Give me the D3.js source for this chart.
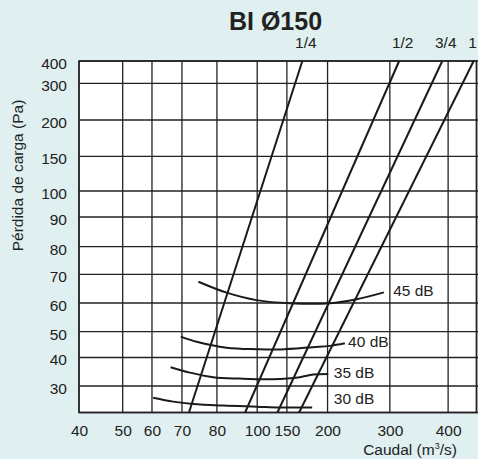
<!DOCTYPE html>
<html>
<head>
<meta charset="utf-8">
<script src="https://cdn.jsdelivr.net/npm/d3@7/dist/d3.min.js"></script>
<style>
  html, body { margin: 0; padding: 0; background: #e0eff0; }
  svg { display: block; }
  text { font-family: "Liberation Sans", Arial, Helvetica, sans-serif; fill: #222; }
</style>
</head>
<body>
<script>
// ---------------- data ----------------
const title = "BI Ø150";
const xTicks = [40, 50, 60, 70, 80, 100, 150, 200, 300, 400];   // Caudal (m3/s)
const xEnd = 500;
const yTicks = [30, 40, 50, 60, 70, 80, 90, 100, 150, 200, 300, 400]; // Pa
const yStart = 20;

// damper position lines (straight): flow at top (400 Pa) and bottom (20 Pa)
const damperLabels = ["1/4", "1/2", "3/4", "1"];
const damperTopQ = [169, 316, 390, 490];
const damperBottomQ = [72, 94, 134, 165];
const damperTopP = 400;
const damperBottomP = 20;

// sound level curves [flow, pressure]
const db45 = [[74.7, 67.4], [84.8, 63.6], [99.7, 61.0], [153.7, 59.9], [203.7, 59.9], [246.5, 61.3], [290.4, 63.7]];
const db40 = [[69.6, 48.1], [74.2, 46.1], [84.8, 43.8], [99.7, 43.2], [138.2, 43.1], [182.3, 44.0], [203.7, 44.5], [227.8, 45.5]];
const db35 = [[66.2, 36.6], [72.3, 34.7], [78.9, 33.1], [91.4, 32.6], [126.9, 32.4], [166, 33.1], [182.3, 34.0], [201, 34.2]];
const db30 = [[60.4, 25.6], [67.1, 24.1], [73.2, 23.2], [83.1, 22.6], [99.7, 22.2], [138.2, 21.9], [181.1, 21.9]];
const dbCurves = [db45, db40, db35, db30];
const dbLabels = ["45 dB", "40 dB", "35 dB", "30 dB"];
const dbLabelQ = [305.7, 233, 210, 210];
const dbLabelP = [64.3, 46.1, 34.7, 25.1];

// ---------------- layout ----------------
const W = 478, H = 459;
const margin = { top: 61, right: 1.5, bottom: 46.5, left: 79 };
const pw = W - margin.left - margin.right;
const ph = H - margin.top - margin.bottom;
const fs = "15.5px";
// the chart's irregular grid spacing (fraction of plot size)
const xGridFrac = [0, .1099, .1836, .2590, .3470, .4483, .5230, .6253, .7820, .9286, 1];
const yGridFrac = [0, .0754, .1565, .2299, .3115, .3932, .4717, .5562, .6302, .7289, .8322, .9366, 1];

const x = d3.scaleLinear()
  .domain(xTicks.concat([xEnd]))
  .range(xGridFrac.map(f => f * pw));
const y = d3.scaleLinear()
  .domain([yStart].concat(yTicks))
  .range(yGridFrac.map(f => ph - f * ph));

const svg = d3.select("body").append("svg")
  .attr("width", W).attr("height", H);

svg.append("text")
  .attr("x", 275.5).attr("y", 30)
  .attr("text-anchor", "middle")
  .style("font-size", "25px").style("font-weight", "bold")
  .text(title);

const g = svg.append("g").attr("transform", `translate(${margin.left},${margin.top})`);

g.append("rect").attr("width", pw).attr("height", ph).attr("fill", "#fff");

// grid
const gridColor = "#222";
g.append("g").selectAll("line").data(xTicks.concat([xEnd])).join("line")
  .attr("x1", d => x(d)).attr("x2", d => x(d))
  .attr("y1", 0).attr("y2", ph)
  .attr("stroke", gridColor).attr("stroke-width", 1.3);
g.append("g").selectAll("line").data([yStart].concat(yTicks)).join("line")
  .attr("x1", 0).attr("x2", pw + 1.5)
  .attr("y1", d => y(d)).attr("y2", d => y(d))
  .attr("stroke", gridColor).attr("stroke-width", 1.3);
g.append("rect").attr("width", pw).attr("height", ph)
  .attr("fill", "none").attr("stroke", gridColor).attr("stroke-width", 1.5);

// axes tick labels
const xAxis = d3.axisBottom(x).tickValues(xTicks).tickSize(0).tickPadding(0).tickFormat(d3.format("d"));
const xa = g.append("g").attr("transform", `translate(0,${ph})`).call(xAxis);
xa.select(".domain").remove();
xa.selectAll("text").attr("y", 23.5).attr("dy", 0)
  .style("font-size", fs).style("font-family", "Liberation Sans, Arial, sans-serif").attr("fill", "#222");

const yAxis = d3.axisLeft(y).tickValues(yTicks).tickSize(0).tickPadding(12).tickFormat(d3.format("d"));
const ya = g.append("g").call(yAxis);
ya.select(".domain").remove();
ya.selectAll("text").attr("dy", "0.35em").attr("y", 2)
  .style("font-size", fs).style("font-family", "Liberation Sans, Arial, sans-serif").attr("fill", "#222");

// damper lines
const lineColor = "#1a1a1a";
damperLabels.forEach((lab, i) => {
  g.append("line")
    .attr("x1", x(damperBottomQ[i])).attr("y1", y(damperBottomP))
    .attr("x2", x(damperTopQ[i])).attr("y2", y(damperTopP))
    .attr("stroke", lineColor).attr("stroke-width", 2);
  svg.append("text")
    .attr("x", Math.min(margin.left + x(damperTopQ[i]) + 3.5, W - 5.5)).attr("y", 48)
    .attr("text-anchor", "middle")
    .style("font-size", fs)
    .text(lab);
});

// dB curves
const curveLine = d3.line()
  .x(d => x(d[0])).y(d => y(d[1]))
  .curve(d3.curveCatmullRom.alpha(0.5));
dbCurves.forEach((c, i) => {
  g.append("path").attr("d", curveLine(c))
    .attr("fill", "none").attr("stroke", lineColor).attr("stroke-width", 2);
  g.append("text")
    .attr("x", x(dbLabelQ[i])).attr("y", y(dbLabelP[i]))
    .attr("dy", "0.35em")
    .style("font-size", fs)
    .text(dbLabels[i]);
});

// axis titles
svg.append("text")
  .attr("transform", "translate(18,175.5) rotate(-90)")
  .attr("text-anchor", "middle").attr("dy", "0.35em")
  .style("font-size", fs)
  .text("Pérdida de carga (Pa)");

const xt = svg.append("text")
  .attr("x", 410).attr("y", 455)
  .attr("text-anchor", "middle")
  .style("font-size", fs);
xt.append("tspan").text("Caudal (m");
xt.append("tspan").text("3").style("font-size", "9px").attr("dy", "-6");
xt.append("tspan").text("/s)").attr("dy", "6");
</script>
</body>
</html>
